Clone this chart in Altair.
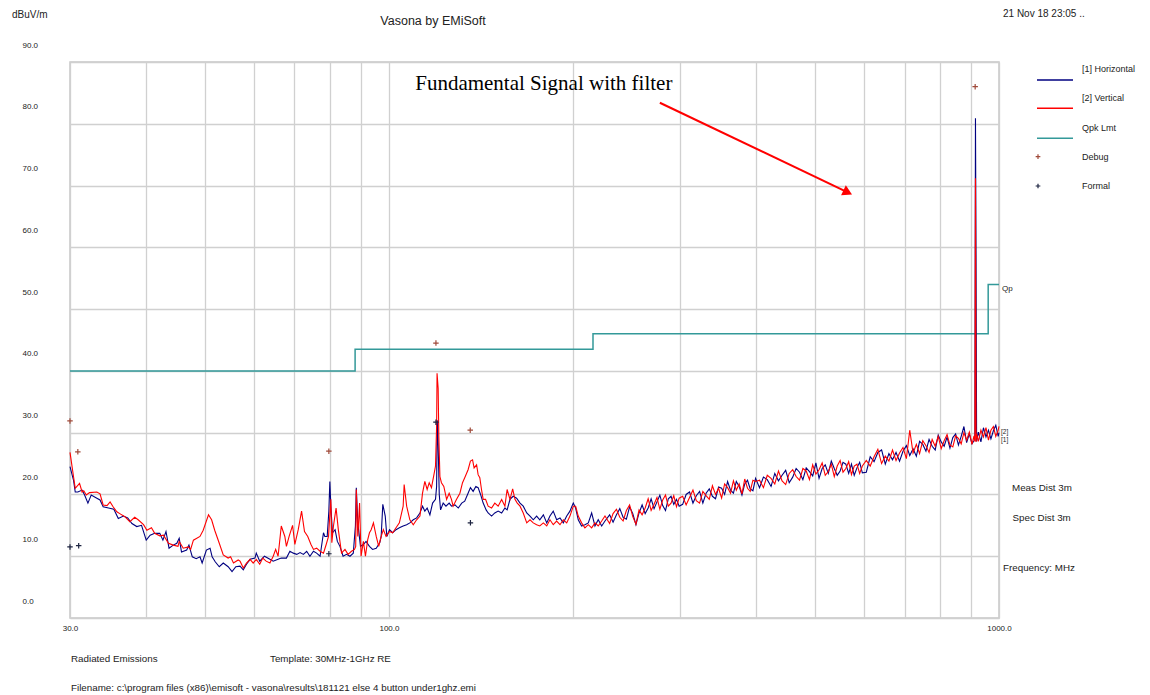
import altair as alt
import pandas as pd

FONT = "Liberation Sans"

# ---------------- data ----------------
# [1] Horizontal trace, 30 - 226 MHz
h_freq_low = [30.0, 30.4, 30.6, 30.9, 31.4, 31.7, 32.1, 32.5, 33.2, 33.6, 34.0, 34.7, 35.4, 36.0, 36.7,
              37.3, 37.9, 38.6, 39.3, 40.0, 40.6, 41.3, 42.1, 42.6, 43.1, 43.6, 44.3, 44.9, 45.3, 45.7,
              46.6, 47.0, 47.6, 48.3, 49.0, 49.4, 50.2, 50.9, 51.3, 51.9, 52.7, 53.5, 54.5, 55.3, 56.1,
              57.0, 57.7, 58.4, 59.2, 60.3, 60.6, 61.4, 62.5, 63.8, 64.6, 65.8, 66.6, 67.9, 68.8, 69.7,
              70.6, 71.5, 72.4, 73.3, 74.2, 75.2, 76.1, 77.1, 78.1, 78.5, 79.2, 79.7, 80.0, 80.3, 80.8,
              81.6, 82.3, 83.1, 84.1, 85.2, 86.3, 87.4, 88.1, 88.4, 88.9, 89.8, 90.8, 91.7, 92.9, 94.0,
              95.3, 96.6, 97.1, 97.7, 98.6, 99.2, 100.2, 101.4, 102.7, 104.0, 105.5, 106.9, 108.2, 109.6,
              111.0, 112.4,
              113.5, 114.5, 115.5, 116.7, 117.9, 119.2, 119.7, 120.0, 120.4, 120.9, 121.5, 122.7, 124.0,
              125.5, 126.6, 128.3, 129.9, 131.6, 133.1, 134.8, 136.0, 137.4, 138.8, 140.0, 141.3, 142.7,
              144.3, 145.4, 147.3, 149.1, 151.0, 153.0, 154.9, 156.2, 157.9, 159.8, 161.9, 164.0, 166.0,
              168.2, 170.3, 172.4, 174.6, 176.7, 179.1, 181.4, 183.6, 185.9, 188.3, 190.7, 193.1, 195.6,
              198.0, 200.5, 202.3, 204.3, 206.9, 209.5, 212.2, 214.9, 217.6, 220.3, 223.2, 226.0]
h_db_low = [24.5, 22.3, 20.4, 20.4, 20.7, 19.9, 18.6, 19.9, 19.4, 19.1, 18.0, 17.8, 17.6, 16.1, 16.5,
            16.2, 15.3, 14.8, 15.0, 12.6, 13.4, 13.7, 13.7, 12.6, 14.0, 11.3, 11.8, 12.1, 12.9, 10.7,
            11.0, 11.8, 9.9, 9.6, 9.9, 8.9, 11.0, 11.3, 9.9, 9.1, 8.3, 8.9, 8.3, 7.5, 8.3,
            8.4, 7.8, 8.7, 9.5, 9.7, 10.5, 9.2, 10.0, 9.5, 9.2, 9.5, 9.7, 9.7, 10.8, 10.5,
            10.3, 10.6, 10.3, 10.8, 10.0, 10.8, 10.5, 10.0, 13.8, 13.2, 13.2, 17.3, 22.1, 18.1, 13.8,
            14.3, 12.4, 11.6, 10.0, 10.3, 10.0, 10.5, 14.9, 21.1, 15.4, 11.6, 11.9, 12.4, 11.6, 11.1,
            11.3, 12.2, 13.2, 18.4, 16.5, 13.2, 14.3, 13.8, 14.3, 14.6, 14.9, 15.1, 15.4, 15.9,
            16.2, 17.0,
            18.1, 17.3, 17.8, 16.7, 18.6, 19.2, 21.3, 32.0, 28.0, 20.0, 17.5, 18.6, 18.1,
            18.6, 18.1, 18.3, 17.8, 18.6, 18.9, 20.2, 21.1, 20.5, 21.3, 21.1, 20.0, 18.6,
            17.5, 17.0, 16.5, 17.0, 17.3, 17.0, 17.8, 17.5, 19.2, 19.7, 19.4, 18.6, 18.1,
            17.0, 16.5, 15.9, 16.5, 15.9, 16.7, 15.4, 16.5, 17.3, 15.9, 16.2, 15.4, 16.5,
            17.3, 18.6, 17.8, 15.9, 14.9, 15.1, 15.4, 17.0, 14.9, 15.9, 14.9, 15.7]

# [2] Vertical trace, 30 - 226 MHz
v_freq_low = [30.0, 30.4, 30.6, 31.1, 31.4, 31.6, 31.9, 32.3, 33.2, 33.6, 34.0, 34.5, 34.9, 35.3, 35.8,
              36.2, 36.9, 37.6, 38.3, 38.8, 39.6, 40.1, 40.8, 41.3, 42.1, 42.7, 43.5, 44.3, 45.1, 45.3,
              46.0, 46.9, 47.3, 47.8, 49.0, 49.6, 50.6, 51.2, 51.8, 52.7, 53.5, 54.5, 55.0, 55.6, 56.6,
              57.0, 57.7, 58.4, 59.2, 59.9, 60.6, 61.4, 62.1, 62.9, 63.8, 64.6, 65.2, 65.8, 66.6, 67.5,
              67.9, 68.6, 69.5, 70.1, 71.0, 71.9, 72.7, 73.6, 74.5, 75.2, 76.1, 77.1, 78.1, 78.9, 79.6,
              79.9, 80.3, 80.6, 81.1, 81.9, 82.6, 83.6, 84.7, 85.7, 86.8, 87.8, 88.2, 88.4, 88.9, 89.5,
              90.0, 90.8, 91.5, 92.3, 92.9, 93.5, 94.3, 95.3, 96.2, 97.1, 97.9, 98.9, 100.2, 101.4,
              102.7, 104.0, 105.5, 105.9, 106.9, 108.2, 109.6, 111.0, 112.4,
              113.5, 114.5, 115.5, 116.4, 117.4, 118.5, 119.2, 119.7, 119.9, 120.4, 120.7, 121.2, 121.9,
              123.0, 124.3, 125.5, 126.6, 127.4, 129.0, 130.7, 132.0, 133.1, 134.8, 136.0, 137.1, 137.9,
              139.2, 140.0, 140.9, 141.8, 142.7, 144.0, 145.4, 147.3, 149.1, 151.0, 153.0, 154.9, 156.2,
              157.9, 159.5, 160.9, 162.3, 164.0, 166.0, 168.2, 170.3, 172.4, 174.6, 176.7, 179.1, 181.4,
              183.6, 185.9, 188.3, 190.7, 193.1, 195.6, 198.0, 200.5, 202.3, 204.3, 206.9, 209.5, 212.2,
              214.9, 217.6, 220.3, 223.2, 226.0]
v_db_low = [26.8, 22.9, 21.0, 21.8, 20.4, 20.6, 19.9, 20.3, 20.4, 20.1, 18.3, 18.2, 18.8, 18.0, 17.2,
            16.9, 16.4, 15.6, 16.3, 15.9, 15.1, 14.2, 14.6, 13.7, 13.3, 13.4, 12.1, 11.8, 11.6, 12.4,
            11.3, 11.5, 11.1, 12.6, 13.2, 14.2, 16.7, 15.9, 14.2, 12.1, 10.2, 9.7, 9.9, 8.9, 9.4,
            9.2, 8.1, 8.9, 9.5, 8.9, 9.5, 8.7, 9.7, 9.2, 8.9, 10.0, 11.1, 10.0, 14.9, 13.2,
            11.6, 13.2, 15.0, 11.9, 14.3, 17.3, 14.0, 13.2, 11.9, 11.1, 11.3, 10.8, 10.5, 11.9, 13.2,
            15.9, 19.2, 12.2, 14.9, 17.8, 14.3, 10.5, 11.1, 10.3, 10.8, 11.1, 11.6, 20.8, 13.2, 18.6,
            10.0, 12.4, 10.0, 12.7, 13.8, 14.3, 15.4, 13.2, 11.6, 13.2, 14.3, 13.2, 14.0, 13.8,
            14.6, 15.4, 18.1, 21.6, 18.1, 15.9, 15.1, 15.9, 16.5,
            20.2, 22.1, 20.8, 21.9, 21.1, 23.2, 24.6, 31.0, 39.6, 37.2, 29.4, 22.9, 21.9,
            21.3, 19.2, 20.2, 19.2, 18.1, 19.2, 20.2, 21.9, 22.7, 24.0, 25.4, 25.6, 24.3,
            24.8, 23.2, 22.7, 20.8, 19.2, 19.2, 18.1, 17.8, 18.6, 18.1, 19.2, 18.1, 20.8,
            19.2, 20.9, 19.2, 18.6, 18.1, 17.0, 15.4, 15.9, 15.4, 15.1, 14.9, 15.4, 14.9,
            15.9, 15.1, 15.7, 15.1, 15.9, 15.4, 16.5, 18.1, 18.1, 16.5, 15.4, 14.6, 15.1,
            14.6, 15.4, 14.9, 15.7, 16.5]

# both traces, 230 - 1000 MHz (same sweep points)
dense_freq = [230, 233, 236, 239, 242, 245, 248, 251, 254, 257, 260, 263, 266, 269, 272, 275, 278, 281,
              284, 287, 290, 293, 296, 299,
              303, 307, 311, 315, 319, 323, 327, 331, 335, 339, 343, 347, 351, 355, 359, 363, 367, 371,
              375, 379, 383, 387, 391, 395, 399,
              405, 411, 417, 423, 429, 435, 441, 447, 453, 459, 465, 471, 477, 483, 489, 495, 501, 507,
              513, 519, 525, 531, 537, 543, 549, 555, 561, 567, 573, 579, 585, 591, 597,
              606, 615, 624, 633, 642, 651, 660, 669, 678, 687, 696, 705, 714, 723, 732, 741, 750, 759,
              768, 777, 786, 795, 804, 813, 822, 831, 840, 849, 858, 867, 876, 885, 894, 903,
              910, 913, 915, 917, 919,
              925, 934, 943, 952, 961, 970, 979, 988, 997, 1000]
h_db_high = [16.7, 15.5, 16.7, 17.7, 16.3, 16.0, 18.0, 16.9, 15.1, 17.0, 18.3, 16.9, 17.8, 19.3, 17.7,
             18.8, 19.9, 18.2, 17.4, 19.3, 19.7, 18.4, 19.2, 18.1,
             18.4, 20.0, 20.4, 18.6, 19.8, 20.5, 18.6, 20.2, 20.9, 19.7, 19.3, 21.2, 21.0, 20.0, 22.1,
             20.7, 20.2, 22.1, 21.3, 19.9, 21.7, 22.3, 20.9, 20.6, 22.6,
             21.1, 22.8, 22.4, 21.3, 23.4, 22.2, 23.1, 23.9, 21.9, 22.8, 24.2, 23.6, 22.4, 24.3, 23.7,
             23.0, 25.1, 22.6, 24.2, 24.8, 23.4, 25.4, 24.2, 23.1, 23.8, 25.2, 24.9, 23.4, 24.9, 23.1,
             24.3, 25.2, 23.5,
             23.6, 26.1, 25.3, 26.8, 27.2, 24.9, 26.6, 25.6, 26.8, 25.4, 27.0, 27.9, 26.3, 27.4, 26.2,
             28.6, 28.1, 27.0, 28.9, 27.8, 27.2, 29.6, 28.5, 27.8, 29.3, 27.5, 29.2, 29.8, 28.0, 29.4,
             31.0, 28.4, 29.8, 28.2,
             28.7, 29.6, 80.9, 58.3, 28.6,
             30.1, 28.5, 30.8, 29.3, 30.4, 29.0, 30.3, 31.2, 29.4, 30.0]
v_db_high = [15.3, 16.9, 17.6, 16.3, 15.7, 17.4, 18.3, 16.4, 15.2, 17.5, 16.7, 17.8, 19.3, 17.4, 18.4,
             19.5, 17.6, 19.1, 19.9, 18.1, 18.6, 19.8, 18.0, 19.4,
             19.7, 18.3, 19.5, 20.7, 19.0, 18.6, 20.5, 19.8, 19.2, 21.4, 20.0, 21.0, 19.4, 21.7, 21.1,
             20.2, 22.2, 20.7, 21.7, 20.1, 22.5, 21.0, 20.5, 22.3, 22.1,
             22.3, 21.1, 23.1, 22.6, 21.7, 23.8, 22.2, 21.6, 23.4, 24.0, 22.9, 22.3, 24.2, 23.8, 22.4,
             24.8, 23.3, 24.0, 25.1, 23.1, 23.7, 24.9, 22.9, 24.6, 25.5, 23.6, 24.2, 25.3, 23.2, 24.6,
             24.9, 23.4, 24.6,
             25.5, 24.6, 26.1, 27.3, 25.0, 26.2, 25.4, 27.2, 25.5, 26.7, 27.6, 25.8, 30.4, 26.7, 28.1,
             26.6, 28.7, 27.9, 26.8, 28.9, 27.8, 29.4, 27.4, 28.7, 29.7, 28.0, 27.7, 29.5, 29.1, 28.2,
             30.0, 28.8, 30.1, 28.1,
             29.5, 28.6, 71.2, 28.5, 29.8,
             28.6, 30.4, 29.3, 30.8, 28.8, 30.4, 31.0, 29.4, 30.4, 31.0]

# Quasi-peak limit (steps)
limit_freq = [30, 88, 216, 960, 1000]
limit_db = [40, 43.5, 46, 54, 54]

# markers
debug_freq = [30.0, 30.9, 79.7, 119.4, 135.9, 914.0]
debug_db = [31.9, 26.9, 27.0, 44.5, 30.4, 86.0]
formal_freq = [30.0, 31.0, 79.7, 119.4, 136.0]
formal_db = [11.5, 11.7, 10.4, 31.7, 15.4]

# annotation arrow (tail, head) and text anchor
arrow_freq = [278, 565]
arrow_db = [83.4, 68.9]
note_freq = [179.4]
note_db = [86.4]
note_text = ["Fundamental Signal with filter"]

# axes
x_grid = [30, 40, 50, 60, 70, 80, 90, 100, 200, 300, 400, 500, 600, 700, 800, 900, 1000]
x_labelled = [30, 100, 1000]
y_ticks = [0, 10, 20, 30, 40, 50, 60, 70, 80, 90]

legend_labels = ["[1] Horizontal", "[2] Vertical", "Qpk Lmt", "Debug", "Formal"]

# ---------------- styling ----------------
BLUE = "#000080"
RED = "#ff0000"
TEAL = "#339999"
DEBUG = "#a04a3a"
FORMAL = "#1c2340"
TXT = "#222222"
PLUS = "M-1,0L1,0M0,-1L0,1"

W, H = 929, 556

xscale = alt.Scale(type="log", domain=[30, 1000], nice=False)
yscale = alt.Scale(domain=[0, 90], nice=False, zero=False)
label_test = " || ".join(f"datum.value == {v}" for v in x_labelled)
xaxis = alt.Axis(values=x_grid, labelExpr=f"({label_test}) ? format(datum.value, '.1f') : ''",
                 title=None, ticks=False, domain=False, grid=True, labelFlush=False,
                 labelOverlap=False, labelPadding=6, labelFontSize=8, labelFont=FONT,
                 labelColor=TXT, gridColor="#d0d0d0", gridWidth=1.3)
yaxis = alt.Axis(values=y_ticks, format=".1f", title=None, ticks=False, domain=False, grid=True,
                 labelAlign="left", labelPadding=48, labelOffset=-17, labelFontSize=8,
                 labelFont=FONT, labelColor=TXT, gridColor="#d0d0d0", gridWidth=1.3)


def X():
    return alt.X("f:Q", scale=xscale, axis=xaxis)


def Y():
    return alt.Y("db:Q", scale=yscale, axis=yaxis)


df_h = pd.DataFrame({"f": h_freq_low + dense_freq, "db": h_db_low + h_db_high})
df_v = pd.DataFrame({"f": v_freq_low + dense_freq, "db": v_db_low + v_db_high})
df_lim = pd.DataFrame({"f": limit_freq, "db": limit_db})
df_dbg = pd.DataFrame({"f": debug_freq, "db": debug_db})
df_fml = pd.DataFrame({"f": formal_freq, "db": formal_db})
df_arrow = pd.DataFrame({"f": arrow_freq, "db": arrow_db})
df_head = pd.DataFrame({"f": arrow_freq[1:], "db": arrow_db[1:]})
df_note = pd.DataFrame({"f": note_freq, "db": note_db, "t": note_text})

layers = []
layers.append(alt.Chart(df_lim).mark_line(interpolate="step-after", color=TEAL, strokeWidth=1.5)
              .encode(x=X(), y=Y()))
layers.append(alt.Chart(df_h).mark_line(color=BLUE, strokeWidth=1.1).encode(x=X(), y=Y()))
layers.append(alt.Chart(df_v).mark_line(color=RED, strokeWidth=1.1).encode(x=X(), y=Y()))
layers.append(alt.Chart(df_dbg).mark_point(shape=PLUS, filled=False, size=30, strokeWidth=1.2,
                                           color=DEBUG, opacity=1).encode(x=X(), y=Y()))
layers.append(alt.Chart(df_fml).mark_point(shape=PLUS, filled=False, size=30, strokeWidth=1.2,
                                           color=FORMAL, opacity=1).encode(x=X(), y=Y()))
layers.append(alt.Chart(df_arrow).mark_line(color=RED, strokeWidth=2).encode(x=X(), y=Y()))
layers.append(alt.Chart(df_head).mark_point(shape="triangle-right", filled=True, size=120, angle=25.5,
                                            color=RED, opacity=1).encode(x=X(), y=Y()))
layers.append(alt.Chart(df_note).mark_text(font="Liberation Serif", fontSize=21, color="#000000",
                                           align="center", baseline="middle")
              .encode(x=X(), y=Y(), text="t:N"))


def txt(s, x, y, size=9.8, align="left", baseline="middle", font=FONT, color=TXT):
    return alt.Chart(pd.DataFrame({"t": [s]})).mark_text(
        align=align, baseline=baseline, font=font, fontSize=size, color=color
    ).encode(text="t:N", x=alt.value(x), y=alt.value(y))


def rule(x1, x2, y, color):
    return alt.Chart(pd.DataFrame({"a": [0]})).mark_rule(color=color, strokeWidth=1.5).encode(
        x=alt.value(x1), x2=alt.value(x2), y=alt.value(y))


def plus(x, y, color):
    return alt.Chart(pd.DataFrame({"a": [0]})).mark_point(
        shape=PLUS, filled=False, size=22, strokeWidth=1.2, color=color, opacity=1
    ).encode(x=alt.value(x), y=alt.value(y))


# titles and page texts (positions relative to the plot area)
layers.append(txt("Vasona by EMiSoft", 363, -41, size=12.5, align="center"))
layers.append(txt("dBuV/m", -58, -47, size=10))
layers.append(txt("21 Nov 18 23:05 ..", 933, -45, size=10, baseline="alphabetic"))

# legend
leg_y_text = [7, 36, 65.5, 94.7, 123.8]
for lab, yy in zip(legend_labels, leg_y_text):
    layers.append(txt(lab, 1012, yy, size=9))
layers.append(rule(967, 1003, 18, BLUE))
layers.append(rule(967, 1003, 46.3, RED))
layers.append(rule(967, 1003, 76.3, TEAL))
layers.append(plus(968, 94.7, DEBUG))
layers.append(plus(968, 124, FORMAL))

# right-hand notes
layers.append(txt("Qp", 932, 227, size=8))
layers.append(txt("[2]", 931, 370, size=6.5))
layers.append(txt("[1]", 931, 377.5, size=6.5))
layers.append(txt("Meas Dist 3m", 942, 426))
layers.append(txt("Spec Dist 3m", 942.5, 455.5))
layers.append(txt("Frequency: MHz", 933, 505.5))

# footer
layers.append(txt("Radiated Emissions", 1, 597))
layers.append(txt("Template: 30MHz-1GHz RE", 200, 597))
layers.append(txt(r"Filename: c:\program files (x86)\emisoft - vasona\results\181121 else 4 button under1ghz.emi",
                  1, 626))

chart = alt.layer(*layers).properties(
    width=W, height=H,
    padding={"left": 62, "top": 54, "right": 142, "bottom": 77},
    autosize=alt.AutoSizeParams(type="none"),
    background="white",
).configure_view(stroke="#c8c8c8", strokeWidth=1.5)

chart.save("out.html", embed_options={"renderer": "svg", "actions": False})
